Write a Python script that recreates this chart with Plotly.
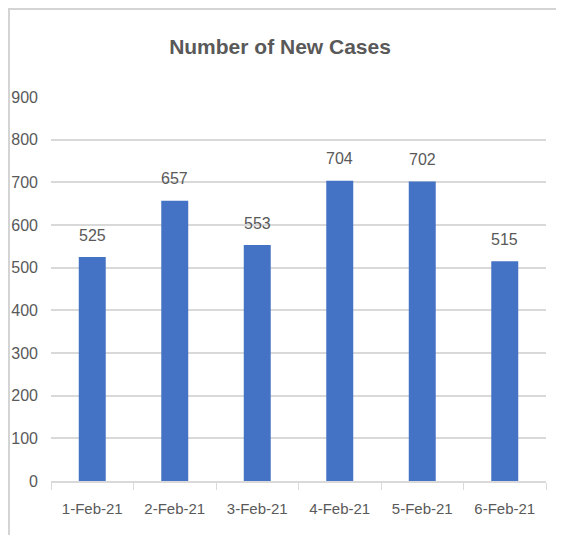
import plotly.graph_objects as go

dates = ["1-Feb-21", "2-Feb-21", "3-Feb-21", "4-Feb-21", "5-Feb-21", "6-Feb-21"]
new_cases = [525, 657, 553, 704, 702, 515]
y_ticks = [0, 100, 200, 300, 400, 500, 600, 700, 800, 900]

# the page places the figure at an 8px body offset, so geometry is shifted by -8
W, H = 556, 527
L, R, T, B = 43, 18, 89, 54
FONT = "Liberation Sans, Arial, sans-serif"
TXT = "#595959"
GRID = "#D9D9D9"

fig = go.Figure()
fig.add_trace(go.Bar(x=dates, y=new_cases, marker=dict(color="#4472C4", line=dict(width=0)),
                     hoverinfo="x+y"))

for d, v in zip(dates, new_cases):
    fig.add_annotation(x=d, y=v, text=str(v), showarrow=False, yanchor="middle", yshift=22,
                       font=dict(family=FONT, size=16, color=TXT))

pw = W - L - R
ph = H - T - B
def px(x):
    return (x - L) / pw
def py(y):
    return (H - B - y) / ph

border = dict(type="line", xref="paper", yref="paper", line=dict(color="#D4D4D4", width=2), layer="above")
fig.add_shape(**border, x0=px(1), x1=px(1), y0=py(0), y1=py(H))
fig.add_shape(**border, x0=px(1), x1=px(555), y0=py(1), y1=py(1))
fig.add_shape(**border, x0=px(555), x1=px(555), y0=py(1), y1=py(H))

fig.update_layout(
    width=W, height=H,
    margin=dict(l=L, r=R, t=T, b=B, pad=0, autoexpand=False),
    paper_bgcolor="white", plot_bgcolor="white",
    bargap=0.673,
    showlegend=False,
    title=dict(text="<b>Number of New Cases</b>", x=272 / W, xref="container", xanchor="center",
               y=(H - 39) / H, yanchor="middle",
               font=dict(family=FONT, size=21, color=TXT)),
    xaxis=dict(type="category", showgrid=False, showline=True, linecolor=GRID, linewidth=2,
               ticks="outside", tickson="boundaries", ticklen=7, tickcolor=GRID, tickwidth=1,
               automargin=False,
               tickfont=dict(family=FONT, size=15, color=TXT), ticklabelstandoff=13),
    yaxis=dict(range=[0, 900], tickvals=y_ticks, showgrid=True, gridcolor=GRID, gridwidth=2,
               zeroline=False, showline=False, ticks="", automargin=False,
               tickfont=dict(family=FONT, size=16, color=TXT), ticklabelstandoff=12),
)

fig.write_html("out.html")
